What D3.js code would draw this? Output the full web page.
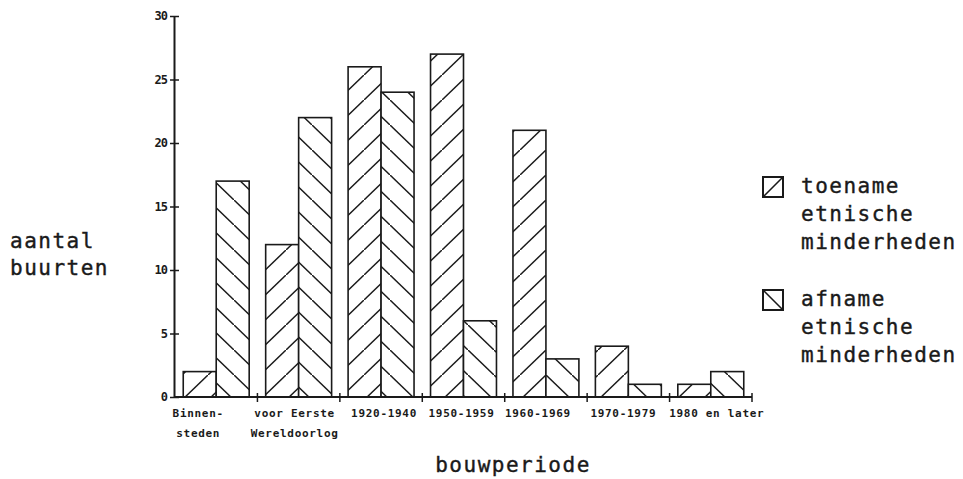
<!DOCTYPE html>
<html><head><meta charset="utf-8">
<script src="https://cdn.jsdelivr.net/npm/d3@7"></script>
<style>body{margin:0;background:#fff}svg{display:block}</style>
</head><body><svg id="c" width="963" height="479"></svg>
<script>
const categories = [["Binnen-","steden"],["voor Eerste","Wereldoorlog"],["1920-1940"],["1950-1959"],["1960-1969"],["1970-1979"],["1980 en later"]];
const toename = [2, 12, 26, 27, 21, 4, 1];
const afname = [17, 22, 24, 6, 3, 1, 2];
const yTicks = [0, 5, 10, 15, 20, 25, 30];
const seriesNames = [["toename","etnische","minderheden"],["afname","etnische","minderheden"]];

const svg = d3.select("#c");
const ink = "#1a1a1a";
const mono = "'DejaVu Sans Mono', 'Liberation Mono', monospace";

const defs = svg.append("defs");
function hatch(id, dir){
  const p = defs.append("pattern").attr("id", id).attr("patternUnits","userSpaceOnUse")
    .attr("width", 26).attr("height", 25);
  if(dir > 0){
    p.append("path").attr("d","M-2,27 L28,-2").attr("stroke",ink).attr("stroke-width",1.4);
  } else {
    p.append("path").attr("d","M-2,-2 L28,27").attr("stroke",ink).attr("stroke-width",1.4);
  }
}
hatch("up", 1); hatch("down", -1);

const x = d3.scaleBand().domain(d3.range(categories.length)).range([175, 752]).paddingInner(0).paddingOuter(0);
const y = d3.scaleLinear().domain([0, 30]).range([397, 16]);
const inner = d3.scaleBand().domain([0,1]).range([0, x.bandwidth()]).paddingOuter(0.25).paddingInner(0);

const series = [toename, afname];
const fills = ["url(#up)", "url(#down)"];
series.forEach((vals, s) => {
  svg.append("g").selectAll("rect").data(vals).join("rect")
    .attr("x", (d,i) => x(i) + inner(s))
    .attr("y", d => y(d))
    .attr("width", inner.bandwidth())
    .attr("height", d => y(0) - y(d))
    .attr("fill", "#fff");
  svg.append("g").selectAll("rect").data(vals).join("rect")
    .attr("x", (d,i) => x(i) + inner(s))
    .attr("y", d => y(d))
    .attr("width", inner.bandwidth())
    .attr("height", d => y(0) - y(d))
    .attr("fill", fills[s])
    .attr("stroke", ink).attr("stroke-width", 1.6);
});

// y axis
const ya = svg.append("g").attr("transform","translate(174,0)")
  .call(d3.axisLeft(y).tickValues(yTicks).tickSize(0).tickPadding(7));
ya.select(".domain").attr("stroke", ink).attr("stroke-width", 2);
ya.selectAll(".tick text").attr("font-family", mono).attr("font-size", 12).attr("font-weight","bold").attr("fill", ink).attr("letter-spacing", -1);
ya.selectAll(".tick").append("line").attr("x1",-4).attr("x2",5).attr("stroke",ink).attr("stroke-width",1.5);

// x axis line
const xa = svg.append("g").attr("transform","translate(0,397)");
xa.append("line").attr("x1",174).attr("x2",752).attr("stroke",ink).attr("stroke-width",2);
const bounds = d3.range(categories.length).map(i => x(i) + x.bandwidth());
xa.selectAll("line.tk").data(bounds).join("line").attr("class","tk")
  .attr("x1", d => d).attr("x2", d => d).attr("y1",-4).attr("y2",5)
  .attr("stroke", ink).attr("stroke-width", 1.5);
const shift = [-18, -4, 3, -2, -8, -5, 6];
const lab = xa.selectAll("text.cl").data(categories).join("text").attr("class","cl")
  .attr("x", (d,i) => x(i) + x.bandwidth()/2 + shift[i])
  .attr("y", 20)
  .attr("text-anchor","middle").attr("font-family", mono).attr("font-size", 11)
  .attr("font-weight","bold").attr("letter-spacing", 0.7).attr("fill", ink);
lab.selectAll("tspan").data(d => d).join("tspan")
  .attr("x", function(){ return d3.select(this.parentNode).attr("x"); })
  .attr("dy", (d,j) => j === 0 ? 0 : 20)
  .text(d => d);

const big = {"font-family": mono, "font-size": 21, "letter-spacing": 1.5, "fill": ink, "stroke": ink, "stroke-width": 0.4};
function applyAttrs(sel, o){ Object.entries(o).forEach(([k,v]) => sel.attr(k,v)); return sel; }

// y label
applyAttrs(svg.append("text").attr("x",10).attr("y",248).text("aantal"), big);
applyAttrs(svg.append("text").attr("x",10).attr("y",275).text("buurten"), big);
// x label
applyAttrs(svg.append("text").attr("x",513).attr("y",472).attr("text-anchor","middle").text("bouwperiode"), big);

// legend
const legY = [177, 290];
seriesNames.forEach((lines, s) => {
  const g = svg.append("g");
  g.append("rect").attr("x", 763).attr("y", legY[s]).attr("width", 20).attr("height", 20)
    .attr("fill","#fff").attr("stroke", ink).attr("stroke-width", 2);
  if(s === 0) g.append("line").attr("x1",763).attr("y1",legY[s]+20).attr("x2",783).attr("y2",legY[s]).attr("stroke",ink).attr("stroke-width",1.6);
  else g.append("line").attr("x1",763).attr("y1",legY[s]).attr("x2",783).attr("y2",legY[s]+20).attr("stroke",ink).attr("stroke-width",1.6);
  lines.forEach((t, j) => {
    applyAttrs(g.append("text").attr("x", 801).attr("y", legY[s] + 16 + j*28).text(t), big);
  });
});
</script></body></html>
